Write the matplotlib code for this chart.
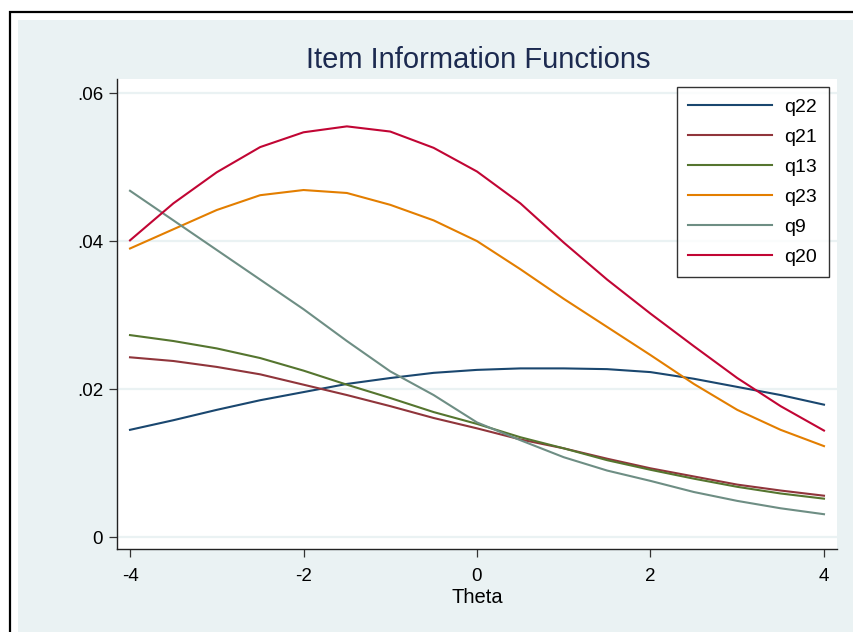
import matplotlib
matplotlib.use('Agg')
import matplotlib.pyplot as plt
from matplotlib.patches import Rectangle

plt.rcParams['font.family'] = ['Liberation Sans', 'DejaVu Sans']

# values (theta in steps of 0.5)
theta = [-4, -3.5, -3, -2.5, -2, -1.5, -1, -0.5, 0, 0.5, 1, 1.5, 2, 2.5, 3, 3.5, 4]
q22 = [0.0145, 0.0158, 0.0172, 0.0185, 0.0196, 0.0207, 0.0215, 0.0222, 0.0226, 0.0228, 0.0228,
       0.0227, 0.0223, 0.0214, 0.0203, 0.0192, 0.0179]
q21 = [0.0243, 0.0238, 0.0230, 0.0220, 0.0206, 0.0192, 0.0177, 0.0161, 0.0147, 0.0132, 0.0120,
       0.0106, 0.0093, 0.0082, 0.0071, 0.0063, 0.0056]
q13 = [0.0273, 0.0265, 0.0255, 0.0242, 0.0225, 0.0206, 0.0188, 0.0169, 0.0153, 0.0135, 0.0120,
       0.0104, 0.0091, 0.0079, 0.0068, 0.0059, 0.0052]
q23 = [0.0390, 0.0416, 0.0442, 0.0462, 0.0469, 0.0465, 0.0449, 0.0428, 0.0400, 0.0362, 0.0322,
       0.0284, 0.0246, 0.0207, 0.0172, 0.0145, 0.0123]
q9 = [0.0468, 0.0428, 0.0388, 0.0348, 0.0308, 0.0265, 0.0224, 0.0192, 0.0155, 0.0131, 0.0108,
      0.0090, 0.0076, 0.0061, 0.0049, 0.0039, 0.0031]
q20 = [0.0401, 0.0451, 0.0493, 0.0527, 0.0547, 0.0555, 0.0548, 0.0526, 0.0494, 0.0451, 0.0398,
       0.0348, 0.0302, 0.0258, 0.0215, 0.0177, 0.0144]

series = [('q22', q22, '#1a476f'), ('q21', q21, '#90353b'), ('q13', q13, '#55752f'),
          ('q23', q23, '#e37e00'), ('q9', q9, '#6e8e84'), ('q20', q20, '#c10534')]

W, H = 854, 632
bg = '#eaf2f3'
fig = plt.figure(figsize=(W / 100, H / 100), dpi=100)
fig.patch.set_facecolor('white')

# outer frame and light background (frame runs off the right/bottom edge)
fig.patches.append(Rectangle((18 / W, 0), 1, 1 - 20 / H, transform=fig.transFigure,
                             facecolor=bg, edgecolor='none', zorder=0))
fig.patches.append(Rectangle((10 / W, -0.1), 1.2, 1.1 - 12 / H, transform=fig.transFigure,
                             facecolor='none', edgecolor='black', linewidth=1.6, zorder=1))

ax = fig.add_axes([117 / W, 1 - 549 / H, 720 / W, 470 / H])
ax.set_zorder(3)
ax.set_facecolor('white')
for name, vals, col in series:
    ax.plot(theta, vals, color=col, linewidth=1.5, label=name, zorder=3)

ax.set_xlim(-4.15, 4.15)
ax.set_ylim(-0.0016, 0.0619)
ax.set_xticks([-4, -2, 0, 2, 4])
ax.set_xticklabels(['-4', '-2', '0', '2', '4'])
ax.set_yticks([0, 0.02, 0.04, 0.06])
ax.set_yticklabels(['0', '.02', '.04', '.06'])
ax.yaxis.grid(True, color=bg, linewidth=1.6, zorder=1)
ax.set_axisbelow(True)

for s in ['top', 'right']:
    ax.spines[s].set_visible(False)
for s in ['left', 'bottom']:
    ax.spines[s].set_color('#222222')
    ax.spines[s].set_linewidth(1.0)
ax.tick_params(axis='both', direction='out', length=6, width=0.9, color='#333333',
               labelsize=13.5, labelcolor='black')
ax.tick_params(axis='x', pad=8)
ax.tick_params(axis='y', pad=4)

ax.set_xlabel('Theta', fontsize=14.5, labelpad=2)
fig.text(478 / W, 1 - 60 / H, 'Item Information Functions', ha='center', va='center',
         fontsize=21, color='#1c2a50', zorder=4)

leg = ax.legend(loc='upper right', bbox_to_anchor=(829 / W, 1 - 87 / H),
                bbox_transform=fig.transFigure, borderaxespad=0, fontsize=14,
                frameon=True, fancybox=False, edgecolor='black', handlelength=4.3,
                handletextpad=0.65, labelspacing=0.63, borderpad=0.6)
leg.get_frame().set_linewidth(1.0)

fig.savefig('out.png', dpi=100)
